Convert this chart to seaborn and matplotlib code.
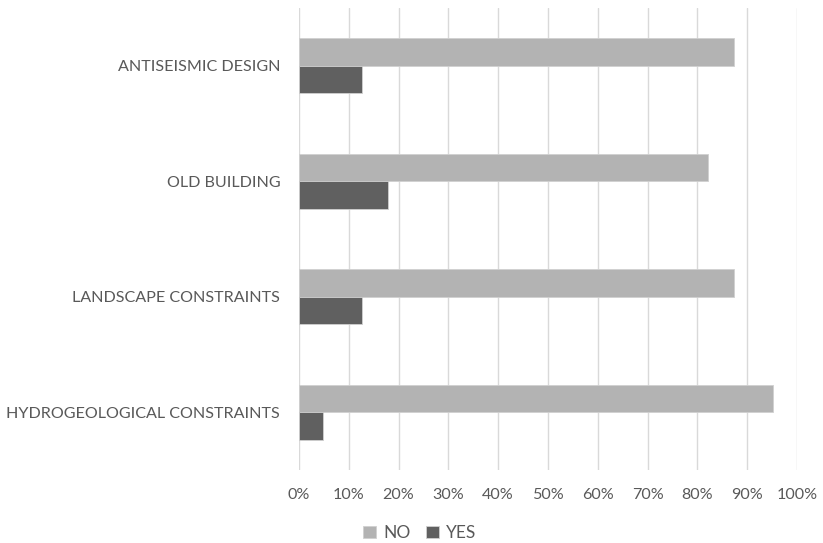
import matplotlib
matplotlib.use("Agg")
import matplotlib.pyplot as plt
import seaborn as sns
import pandas as pd
from matplotlib.ticker import PercentFormatter, MultipleLocator

categories = ["ANTISEISMIC DESIGN", "OLD BUILDING", "LANDSCAPE CONSTRAINTS",
              "HYDROGEOLOGICAL CONSTRAINTS"]
no_values = [87.3, 82.1, 87.4, 95.1]
yes_values = [12.7, 17.9, 12.6, 4.9]
series = ["NO", "YES"]
colors = {"NO": "#b3b3b3", "YES": "#606060"}

df = pd.DataFrame({
    "category": categories * 2,
    "answer": ["NO"] * len(categories) + ["YES"] * len(categories),
    "share": no_values + yes_values,
})

sns.set_theme(style="white")
plt.rcParams["font.family"] = ["Lato", "DejaVu Sans"]
text_color = "#595959"

fig = plt.figure(figsize=(8.23, 5.43), dpi=100)
ax = fig.add_axes([299 / 823, 1 - 470 / 543, (797 - 299) / 823, (470 - 8) / 543])

sns.barplot(data=df, y="category", x="share", hue="answer", order=categories,
            hue_order=series, palette=colors, width=0.476, gap=0,
            orient="h", ax=ax, saturation=1, linewidth=0.6, edgecolor="#d0d0d0",
            legend=True)

ax.set_xlim(0, 100)
ax.set_ylim(len(categories) - 0.5, -0.5)
ax.xaxis.set_major_locator(MultipleLocator(10))
ax.xaxis.set_major_formatter(PercentFormatter(decimals=0))
ax.grid(axis="x", color="#d9d9d9", linewidth=1)
ax.set_axisbelow(True)
for s in ax.spines.values():
    s.set_visible(False)
ax.set_xlabel("")
ax.set_ylabel("")
ax.tick_params(axis="x", length=0, pad=13, labelsize=11.6, labelcolor=text_color)
ax.tick_params(axis="y", length=0, pad=13.5, labelsize=11.6, labelcolor=text_color)

handles, labels = ax.get_legend_handles_labels()
ax.legend_.remove()
fig.legend(handles, labels, loc="center", bbox_to_anchor=(420 / 823, 1 - 533 / 543),
           ncol=2, frameon=False, fontsize=12.5, labelcolor=text_color,
           handlelength=0.75, handleheight=0.75, handletextpad=0.4, columnspacing=0.9)

fig.savefig("out.png", dpi=100)
